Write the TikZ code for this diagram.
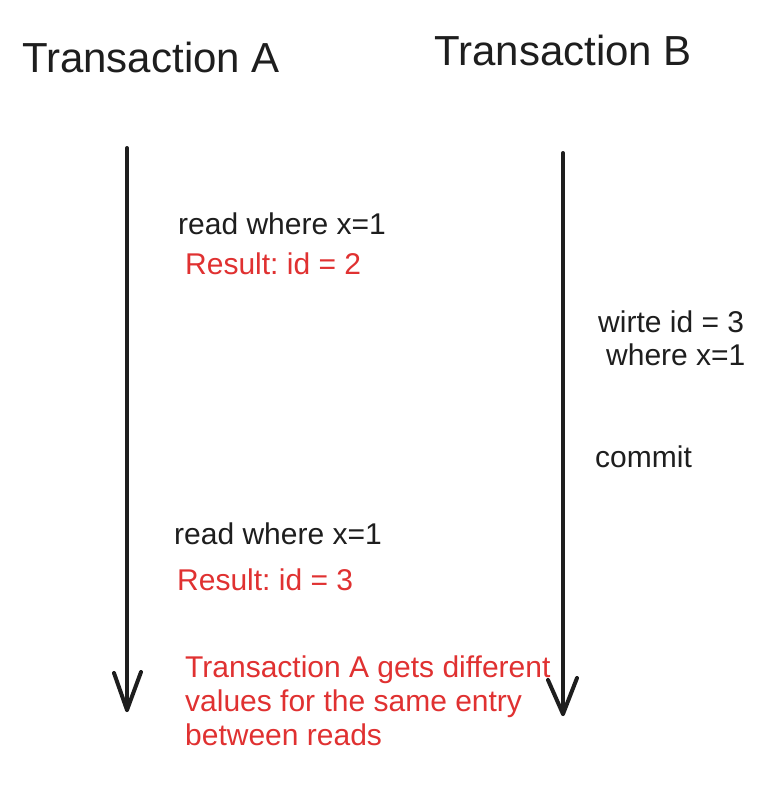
\documentclass[tikz,border=0pt]{standalone}
\usepackage{fontspec}
\setmainfont{Liberation Sans}
\usetikzlibrary{calc}
\definecolor{ink}{HTML}{1E1E1E}
\definecolor{redink}{HTML}{E03131}
\frenchspacing
\begin{document}
\begin{tikzpicture}[x=1pt,y=-1pt,
  title/.style={anchor=base west,inner sep=0pt,text=ink,font=\fontsize{42}{48}\selectfont},
  lbl/.style={anchor=base west,inner sep=0pt,text=ink,font=\fontsize{30}{34}\selectfont},
  redlbl/.style={lbl,text=redink},
  timeline/.style={draw=ink,line width=4pt,line cap=round,line join=round}]
\useasboundingbox (0,0) rectangle (780,790);
\fill[white] (0,0) rectangle (780,790);
\node[title] (ta) at (22,72) {Transaction A};
\node[title] (tb) at (434,65) {Transaction B};
% timelines
\coordinate (aTop) at (127,148);
\coordinate (aEnd) at (127,710);
\coordinate (bTop) at (563,153);
\coordinate (bEnd) at (563,714);
\draw[timeline] (aTop) -- (aEnd);
\draw[timeline] ($(aEnd)+(-13,-37)$) -- (aEnd) -- ($(aEnd)+(14,-38)$);
\draw[timeline] (bTop) -- (bEnd);
\draw[timeline] ($(bEnd)+(-15,-34)$) -- (bEnd) -- ($(bEnd)+(14,-36)$);
% labels A
\node[lbl] (r1) at (178,234) {read where x=1};
\node[redlbl] (res1) at (185,274) {Result: id = 2};
\node[lbl] (r2) at (174,544) {read where x=1};
\node[redlbl] (res2) at (177,590) {Result: id = 3};
% labels B
\node[lbl] (w1) at (598,332) {wirte id = 3};
\node[lbl] (w2) at (606,365) {where x=1};
\node[lbl] (cm) at (595,467) {commit};
% note
\node[redlbl] (n1) at (185,677) {Transaction A gets different};
\node[redlbl] (n2) at (185,711) {values for the same entry};
\node[redlbl] (n3) at (185,745) {between reads};
\end{tikzpicture}
\end{document}
